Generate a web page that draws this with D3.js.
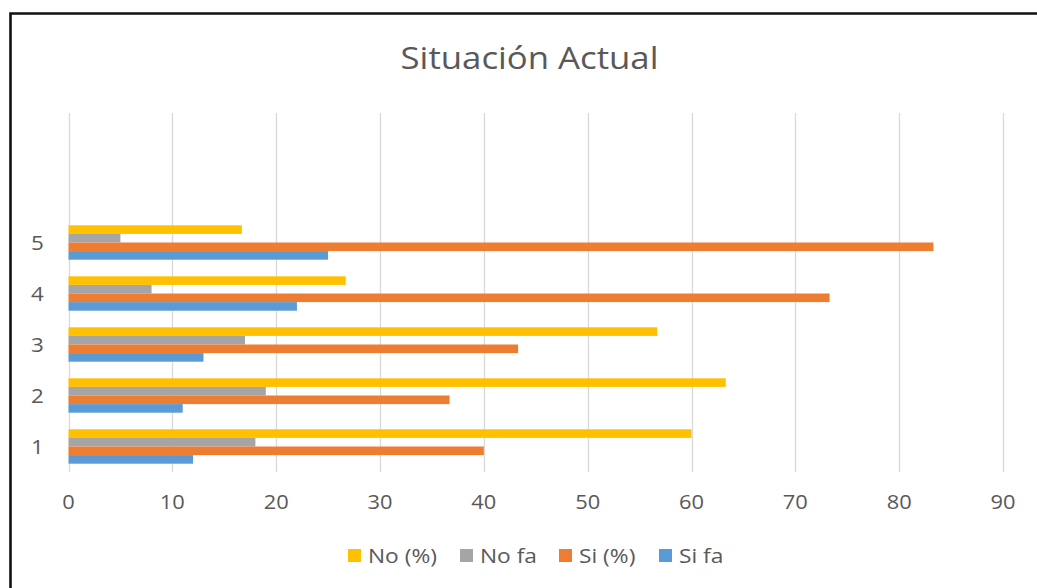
<!DOCTYPE html>
<html>
<head>
<meta charset="utf-8">
<script src="https://cdn.jsdelivr.net/npm/d3@7"></script>
<style>
  html, body { margin: 0; padding: 0; background: #fff; }
  svg { display: block; }
  text { font-family: "Open Sans", "Segoe UI", sans-serif; fill: #595959; }
</style>
</head>
<body>
<svg id="chart" width="1037" height="588"></svg>
<script>
// Chart data
const categories = ["1", "2", "3", "4", "5"];
const seriesNames = ["No (%)", "No fa", "Si (%)", "Si fa"];
const noPct = [60, 63.3, 56.7, 26.7, 16.7];
const noFa  = [18, 19, 17, 8, 5];
const siPct = [40, 36.7, 43.3, 73.3, 83.3];
const siFa  = [12, 11, 13, 22, 25];
const xTicks = [0, 10, 20, 30, 40, 50, 60, 70, 80, 90];
const seriesColors = ["#FFC000", "#A5A5A5", "#ED7D31", "#5B9BD5"];
const title = "Situación Actual";

const seriesValues = [noPct, noFa, siPct, siFa];

const svg = d3.select("#chart");

// width of a string at a given font size, for horizontal glyph stretch
function measure(str, size) {
  const tmp = svg.append("text").attr("font-size", size).text(str);
  const w = tmp.node().getComputedTextLength();
  tmp.remove();
  return w;
}

// outer frame (extends past the right and bottom edges)
svg.append("path")
  .attr("d", "M10.5,1100 V13.5 H1100")
  .attr("fill", "none")
  .attr("stroke", "#111")
  .attr("stroke-width", 2.6);

const plot = { left: 68.5, right: 1003, top: 113, bottom: 472 };
const slot = 51; // height of one category band

const x = d3.scaleLinear().domain([0, 90]).range([plot.left, plot.right]);
const y = d3.scaleBand()
  .domain(categories)
  .range([plot.bottom, plot.bottom - slot * categories.length])
  .paddingInner(16.6 / 51)
  .paddingOuter(8.3 / 51);
const ySub = d3.scaleBand().domain(seriesNames).range([0, y.bandwidth()]);

// vertical gridlines
svg.append("g")
  .selectAll("line")
  .data(xTicks)
  .join("line")
  .attr("x1", d => Math.round(x(d)) + 0.5)
  .attr("x2", d => Math.round(x(d)) + 0.5)
  .attr("y1", plot.top)
  .attr("y2", plot.bottom)
  .attr("stroke", "#D9D9D9")
  .attr("stroke-width", 1.3);

// bars
const groups = svg.append("g")
  .selectAll("g")
  .data(categories)
  .join("g")
  .attr("transform", d => `translate(0,${y(d)})`);

groups.selectAll("rect")
  .data((d, i) => seriesNames.map((s, k) => ({ s, k, v: seriesValues[k][i] })))
  .join("rect")
  .attr("x", x(0))
  .attr("y", d => ySub(d.s))
  .attr("width", d => x(d.v) - x(0))
  .attr("height", ySub.bandwidth())
  .attr("fill", d => seriesColors[d.k]);

// x tick labels
const tickSize = 19.5;
const tickSx = 25 / measure("90", tickSize);
svg.append("g")
  .selectAll("text")
  .data(xTicks)
  .join("text")
  .attr("transform", d => `translate(${x(d)},509) scale(${tickSx},1)`)
  .attr("text-anchor", "middle")
  .attr("font-size", tickSize)
  .text(d => d);

// category labels
svg.append("g")
  .selectAll("text")
  .data(categories)
  .join("text")
  .attr("transform", d => `translate(37.5,${y(d) + y.bandwidth() / 2 + 7.8}) scale(${tickSx},1)`)
  .attr("text-anchor", "middle")
  .attr("font-size", 20)
  .text(d => d);

// title
const titleSize = 31.5;
const titleSx = 258 / measure(title, titleSize);
svg.append("text")
  .attr("transform", `translate(529.5,69.3) scale(${titleSx},1)`)
  .attr("text-anchor", "middle")
  .attr("font-size", titleSize)
  .text(title);

// legend
const legendSize = 20;
const legendSx = 69 / measure(seriesNames[0], legendSize);
const legendX = [348, 460, 559, 659];
const legend = svg.append("g")
  .selectAll("g")
  .data(seriesNames)
  .join("g")
  .attr("transform", (d, i) => `translate(${legendX[i]},549)`);
legend.append("rect")
  .attr("width", 13)
  .attr("height", 13)
  .attr("fill", (d, i) => seriesColors[i]);
legend.append("text")
  .attr("transform", `translate(20,13.7) scale(${legendSx},1)`)
  .attr("font-size", legendSize)
  .text(d => d);
</script>
</body>
</html>
